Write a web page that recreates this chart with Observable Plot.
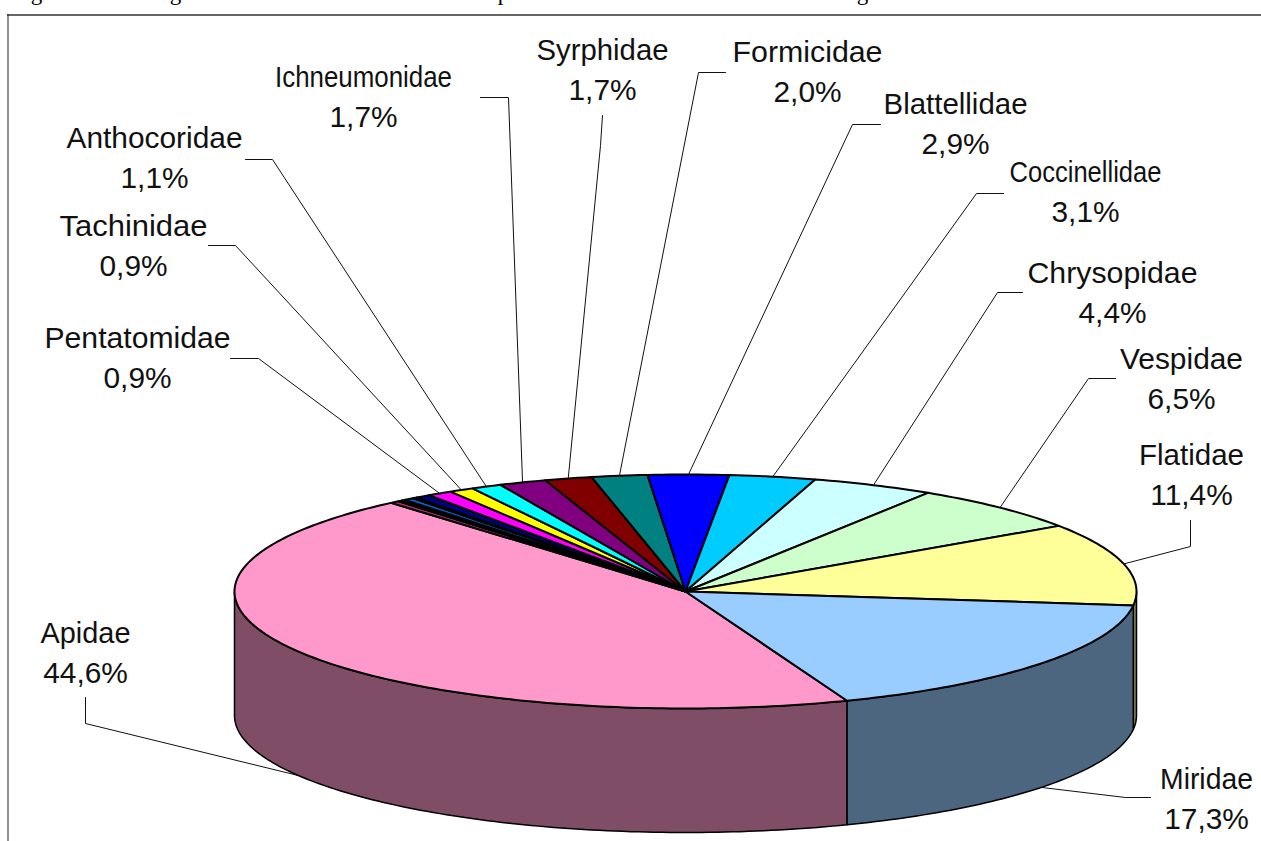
<!DOCTYPE html>
<html>
<head>
<meta charset="utf-8">
<style>html,body{margin:0;padding:0;background:#fff;overflow:hidden}svg{display:block}</style>
<script src="https://cdn.jsdelivr.net/npm/d3@7"></script>
<script src="https://cdn.jsdelivr.net/npm/@observablehq/plot@0.6"></script>
</head>
<body>
<div id="chart"></div>
<script>
// Data, clockwise from the Apidae slice
const families = ["Apidae","","","","","","","Pentatomidae","Tachinidae","Anthocoridae","Ichneumonidae","Syrphidae","Formicidae","Blattellidae","Coccinellidae","Chrysopidae","Vespidae","Flatidae","Miridae"];
const percents = [44.6,0.35,0.15,0.15,0.35,0.15,0.55,0.9,0.9,1.1,1.7,1.7,2.0,2.9,3.1,4.4,6.5,11.4,17.3];
const topColors = ["#FF99CC","#993366","#660066","#FF8080","#0066CC","#CCCCFF","#000080","#FF00FF","#FFFF00","#00FFFF","#800080","#800000","#008080","#0000FF","#00CCFF","#CCFFFF","#CCFFCC","#FFFF99","#99CCFF"];

// Label layout: name, centre x, centre y of the two lines, drawn width of the name
const labelNames = ["Syrphidae","Formicidae","Blattellidae","Coccinellidae","Chrysopidae","Vespidae","Flatidae","Miridae","Apidae","Ichneumonidae","Anthocoridae","Tachinidae","Pentatomidae"];
const labelX = [602,807,955,1085,1112,1181,1191,1206,85,363,154,133,137];
const labelY = [67,69,121,189,290,376,472,796,650,94,155,243,355];
const nameWidths = [132,150,144,152,170,123,105,93,90,177,176,148,186];
const percentStretch = 1.03;
// Leader lines: free end and elbow
const leaderEndX = [602,725,880,1003,1022,1115,1190,1150,85,480,245,208,230];
const leaderEndY = [115,72,124,193,292,378,520,797,697,97,159,245,358];
const elbowX = [600,698,852,976,997,1088,1190,1125,85,508,272,235,258];
const elbowY = [145,72,124,193,292,378,546,797,723,97,159,245,358];
// What survives of the clipped heading above the frame
const headingGlyphs = ["g","g","p","g"];
const headingX = [36,175,503,862];

// Pie geometry
const cx = 685, cy = 591, rx = 451, ry = 117, depth = 124, startAngle = 69;
const total = d3.sum(percents);
const rad = d => d * Math.PI / 180;
const px = a => cx + rx * Math.cos(rad(a));
const py = a => cy + ry * Math.sin(rad(a));
const side = c => { const k = d3.rgb(c); return d3.rgb(k.r / 2, k.g / 2, k.b / 2).formatHex(); };

let acc = startAngle;
const slices = percents.map((v, i) => {
  const a0 = acc, a1 = acc + v / total * 360; acc = a1;
  return {name: families[i] || `s${i}`, label: families[i], value: v, a0, a1, color: topColors[i]};
});
const arcAngles = (a0, a1) => {
  const n = Math.max(2, Math.ceil(a1 - a0));
  return d3.range(n + 1).map(k => a0 + (a1 - a0) * k / n);
};
const topPoints = slices.flatMap(s => [
  {name: s.name, color: s.color, x: cx, y: cy},
  ...arcAngles(s.a0, s.a1).map(a => ({name: s.name, color: s.color, x: px(a), y: py(a)}))
]);
const wallPoints = slices.flatMap(s => [[0,180],[360,540]].flatMap(([lo, hi], w) => {
  const a0 = Math.max(s.a0, lo), a1 = Math.min(s.a1, hi);
  if (a0 >= a1) return [];
  const key = s.name + w, color = side(s.color), arc = arcAngles(a0, a1);
  return [
    ...arc.map(a => ({key, color, x: px(a), y: py(a)})),
    ...arc.slice().reverse().map(a => ({key, color, x: px(a), y: py(a) + depth}))
  ];
}));
const leaderPoints = labelNames.flatMap((n, i) => {
  const s = slices.find(d => d.label === n);
  const m = (s.a0 + s.a1) / 2, front = Math.sin(rad(m)) > 0;
  return [
    {n, x: leaderEndX[i], y: leaderEndY[i]},
    {n, x: elbowX[i], y: elbowY[i]},
    {n, x: px(m), y: py(m) + (front ? depth : 0)}
  ];
});
const labels = labelNames.map((n, i) => {
  const s = slices.find(d => d.label === n);
  return {x: labelX[i], y: labelY[i], text: `${n}\n${s.value.toFixed(1).replace(".", ",")}%`};
});
const heading = headingGlyphs.map((g, i) => ({g, x: headingX[i]}));

const chart = Plot.plot({
  width: 1261, height: 841, margin: 0,
  x: {domain: [0, 1261], range: [0, 1261], axis: null},
  y: {domain: [0, 841], range: [0, 841], axis: null},
  color: {type: "identity"},
  marks: [
    Plot.text(heading, {x: "x", y: -1, text: "g", fontFamily: "Liberation Serif", fontSize: 23, textAnchor: "middle", lineAnchor: "bottom", fill: "black"}),
    Plot.ruleY([14.5], {x1: 7, x2: 1261, stroke: "#333", strokeWidth: 1.5}),
    Plot.ruleX([7.5], {y1: 14, y2: 841, stroke: "#222", strokeWidth: 1}),
    Plot.line(leaderPoints, {x: "x", y: "y", z: "n", stroke: "#111", strokeWidth: 1}),
    Plot.line(wallPoints, {x: "x", y: "y", z: "key", fill: "color", stroke: "black", strokeWidth: 1.5, curve: "linear-closed"}),
    Plot.line(topPoints, {x: "x", y: "y", z: "name", fill: "color", stroke: "black", strokeWidth: 2, strokeLinejoin: "round", curve: "linear-closed"}),
    Plot.text(labels, {x: "x", y: "y", text: "text", fontFamily: "Liberation Sans", fontSize: 29, lineHeight: 1.35, textAnchor: "middle", lineAnchor: "middle", fill: "#111"})
  ]
});
document.getElementById("chart").appendChild(chart);

// Fit each label line to the width it has in the reference
d3.select(chart).selectAll("tspan").each(function () {
  const t = this.textContent;
  const i = labelNames.indexOf(t);
  const w = i >= 0 ? nameWidths[i] : this.getComputedTextLength() * percentStretch;
  this.setAttribute("textLength", w);
  this.setAttribute("lengthAdjust", "spacingAndGlyphs");
});
</script>
</body>
</html>
